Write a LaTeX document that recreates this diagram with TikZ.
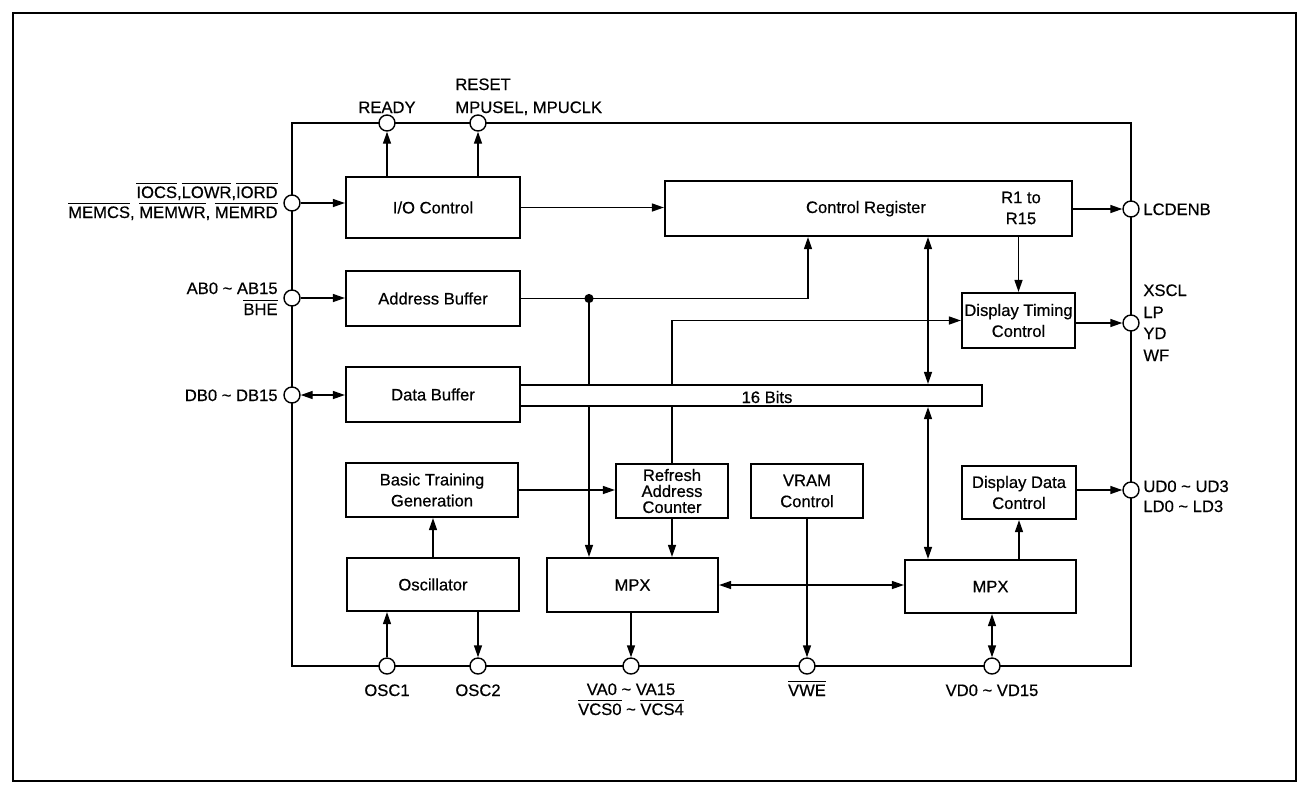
\documentclass[tikz,border=0pt]{standalone}
\usepackage{fontspec}
\setmainfont{Liberation Sans}[FakeBold=0.5]
\usetikzlibrary{arrows.meta}
\newcommand{\ovl}[1]{$\overline{\mbox{#1}}$}
\newcommand{\tld}{\textasciitilde}
\begin{document}
\begin{tikzpicture}[x=0.5pt,y=-0.5pt,
  blk/.style={draw,line width=1.1pt,fill=white,align=center,inner sep=0pt,font=\fontsize{8.3}{10.5}\selectfont},
  pin/.style={draw,circle,fill=white,line width=0.7pt,minimum size=8pt,inner sep=0pt},
  sig/.style={line width=0.7pt,-{Triangle[length=6pt,width=4pt]}},
  bisig/.style={line width=0.7pt,{Triangle[length=6pt,width=4pt]}-{Triangle[length=6pt,width=4pt]}},
  lbl/.style={inner sep=0pt,text height=6pt,text depth=0pt,font=\fontsize{8.3}{10.5}\selectfont}]
\useasboundingbox (0,0) rectangle (1301,794);
\draw[line width=0.7pt] (13,13) rectangle (1296,781);
% chip outline and pins
\draw[line width=0.7pt] (292,123) rectangle (1131,666);
\node[pin] (ready) at (387,123) {};
\node[pin] (reset) at (478,123) {};
\node[pin] (ctl) at (292,203) {};
\node[pin] (addr) at (292,298) {};
\node[pin] (data) at (292,395) {};
\node[pin] (lcdenb) at (1131,209) {};
\node[pin] (tmg) at (1131,323) {};
\node[pin] (udld) at (1131,490) {};
\node[pin] (osca) at (387,666) {};
\node[pin] (oscb) at (478,666) {};
\node[pin] (vaddr) at (631,666) {};
\node[pin] (vwe) at (807,666) {};
\node[pin] (vdata) at (992,666) {};
% blocks
\node[blk,minimum width=87pt,minimum height=30.5pt] (ioc) at (433,207.5) {I/O Control};
\node[blk,minimum width=203.5pt,minimum height=27.5pt] (creg) at (868.5,208.5) {};
\node[lbl] (cregtxt) at (866,207) {Control Register};
\node[lbl,align=center,text height=,text depth=] (cregr) at (1021,208) {R1 to\\R15};
\node[blk,minimum width=87pt,minimum height=27.5pt] (ab) at (433,298.5) {Address Buffer};
\node[blk,minimum width=87pt,minimum height=27.5pt] (db) at (433,394.5) {Data Buffer};
\node[blk,minimum width=56.5pt,minimum height=27.5pt] (dtc) at (1018.5,320.5) {Display Timing\\Control};
\node[blk,minimum width=86pt,minimum height=27pt] (btg) at (432,490) {Basic Training\\Generation};
\node[blk,minimum width=56pt,minimum height=27pt,font=\fontsize{8.3}{8}\selectfont] (rac) at (672,491) {Refresh\\Address\\Counter};
\node[blk,minimum width=56pt,minimum height=27pt] (vram) at (807,491) {VRAM\\Control};
\node[blk,minimum width=57pt,minimum height=26.5pt] (ddc) at (1019,492.5) {Display Data\\Control};
\node[blk,minimum width=86pt,minimum height=26.5pt] (osc) at (433,584.5) {Oscillator};
\node[blk,minimum width=85.5pt,minimum height=27pt] (mpxa) at (632.5,585) {MPX};
\node[blk,minimum width=85.5pt,minimum height=26.5pt] (mpxb) at (990.5,586.5) {MPX};
% connections
\draw[sig] (ctl) -- (ctl -| ioc.west);
\draw[sig] (ready |- ioc.north) -- (ready);
\draw[sig] (reset |- ioc.north) -- (reset);
\draw[sig] (ioc.east) -- (ioc.east -| creg.west);
\draw[sig] (creg.east |- lcdenb) -- (lcdenb);
\draw[sig] (addr) -- (addr -| ab.west);
\coordinate (tap) at (589,298.5);
\coordinate (abup) at (808,298.5);
\draw[sig] (ab.east) -- (tap) -- (abup) -- (abup |- creg.south);
\fill (tap) circle (2.3pt);
\draw[sig] (tap) -- (tap |- mpxa.north);
\draw[bisig] (data) -- (data -| db.west);
\draw[sig] (creg.south -| dtc.north) -- (dtc.north);
\draw[sig] (rac.north) -- (rac.north |- dtc.west) -- (dtc.west);
\draw[sig] (dtc.east |- tmg) -- (tmg);
\draw[sig] (btg.east) -- (btg.east -| rac.west);
\draw[sig] (rac.south) -- (rac.south |- mpxa.north);
\draw[sig] (osc.north) -- (osc.north |- btg.south);
\draw[sig] (osca) -- (osca |- osc.south);
\draw[sig] (oscb |- osc.south) -- (oscb);
\draw[sig] (vaddr |- mpxa.south) -- (vaddr);
\draw[sig] (vwe |- vram.south) -- (vwe);
\draw[bisig] (mpxa.east) -- (mpxa.east -| mpxb.west);
\draw[bisig] (vdata |- mpxb.south) -- (vdata);
\draw[sig] (mpxb.north -| ddc.south) -- (ddc.south);
\draw[sig] (ddc.east |- udld) -- (udld);
% 16 bit bus
\node[draw,line width=1.1pt,fill=white,inner sep=0pt,minimum width=231pt,minimum height=10.5pt] (bus) at (751,395.5) {};
\node[lbl] (buslbl) at (767,397) {16 Bits};
\coordinate (bidir) at (928,300);
\draw[bisig] (creg.south -| bidir) -- (bus.north -| bidir);
\draw[bisig] (bus.south -| bidir) -- (mpxb.north -| bidir);
% pin labels
\node[lbl] (readylbl) at (387,107) {READY};
\node[lbl,anchor=west] (resetlbl) at (455,84) {RESET};
\node[lbl,anchor=west] (mpulbl) at (455,107) {MPUSEL, MPUCLK};
\node[lbl,anchor=east] (ctllbla) at (278,192) {\ovl{IOCS},\ovl{LOWR},\ovl{IORD}};
\node[lbl,anchor=east] (ctllblb) at (278,212) {\ovl{MEMCS}, \ovl{MEMWR}, \ovl{MEMRD}};
\node[lbl,anchor=east] (addrlbla) at (278,288) {AB0 \tld{} AB15};
\node[lbl,anchor=east] (addrlblb) at (278,309) {\ovl{BHE}};
\node[lbl,anchor=east] (datalbl) at (278,395) {DB0 \tld{} DB15};
\node[lbl,anchor=west] (lcdenblbl) at (1143,209) {LCDENB};
\node[lbl,anchor=west] (tmglbla) at (1143,290) {XSCL};
\node[lbl,anchor=west] (tmglblb) at (1143,312) {LP};
\node[lbl,anchor=west] (tmglblc) at (1143,333) {YD};
\node[lbl,anchor=west] (tmglbld) at (1143,355) {WF};
\node[lbl,anchor=west] (udlbl) at (1143,486) {UD0 \tld{} UD3};
\node[lbl,anchor=west] (ldlbl) at (1143,506) {LD0 \tld{} LD3};
\node[lbl] (oscalbl) at (387,690) {OSC1};
\node[lbl] (oscblbl) at (478,690) {OSC2};
\node[lbl] (vaddrlbla) at (631,689) {VA0 \tld{} VA15};
\node[lbl] (vaddrlblb) at (631,709) {\ovl{VCS0} \tld{} \ovl{VCS4}};
\node[lbl] (vwelbl) at (807,690) {\ovl{VWE}};
\node[lbl] (vdatalbl) at (992,690) {VD0 \tld{} VD15};
\end{tikzpicture}
\end{document}
